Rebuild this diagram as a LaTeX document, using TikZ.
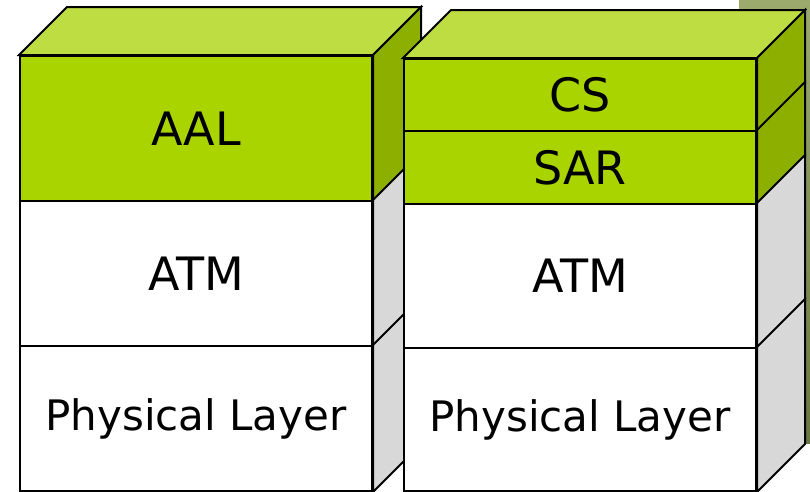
\documentclass[tikz,border=0pt]{standalone}
\usepackage{fontspec}
\setmainfont{DejaVu Sans}
\usetikzlibrary{calc}

\definecolor{frontG}{RGB}{170,212,0}
\definecolor{topG}{RGB}{190,221,66}
\definecolor{sideG}{RGB}{141,176,0}
\definecolor{sideW}{RGB}{216,216,216}
\definecolor{oliveA}{RGB}{156,170,110}
\definecolor{oliveB}{RGB}{104,120,66}

\begin{document}
\begin{tikzpicture}[x=1pt,y=-1pt]
 \tikzstyle{layer}  = [draw=black,line width=2pt,anchor=north west,inner sep=0pt,minimum width=352pt];
 \tikzstyle{placeG} = [fill=frontG,font=\fontsize{46}{52}\selectfont];
 \tikzstyle{placeW} = [fill=white,font=\fontsize{46}{52}\selectfont];
 \tikzstyle{placeP} = [fill=white,font=\fontsize{42}{48}\selectfont];
 \tikzstyle{face}   = [draw=black,line width=2pt];

 \useasboundingbox (0,0) rectangle (810,491);

 %% slide bar behind
 \shade[top color=oliveA,bottom color=oliveB] (739,0) rectangle (810,443);

 %% left stack
 \node[layer,placeG,minimum height=145pt,name=aal]  at (19,55)  {AAL};
 \node[layer,placeW,minimum height=145pt,name=atmL] at (19,200) {ATM};
 \node[layer,placeP,minimum height=145pt,name=phyL] at (19,345) {Physical Layer};
 \draw[face,fill=topG] (aal.north west) -- ++(48,-48) -- ($(aal.north east)+(48,-48)$) -- (aal.north east) -- cycle;
 \foreach \n/\c in {aal/sideG,atmL/sideW,phyL/sideW}
   \draw[face,fill=\c] (\n.north east) -- ++(48,-48) -- ($(\n.south east)+(48,-48)$) -- (\n.south east) -- cycle;

 %% right stack
 \node[layer,placeG,minimum height=72pt,name=cs]    at (403,58)  {CS};
 \node[layer,placeG,minimum height=73pt,name=sar]   at (403,130) {SAR};
 \node[layer,placeW,minimum height=144pt,name=atmR] at (403,203) {ATM};
 \node[layer,placeP,minimum height=143pt,name=phyR] at (403,347) {Physical Layer};
 \draw[face,fill=topG] (cs.north west) -- ++(48,-48) -- ($(cs.north east)+(48,-48)$) -- (cs.north east) -- cycle;
 \foreach \n/\c in {cs/sideG,sar/sideG,atmR/sideW,phyR/sideW}
   \draw[face,fill=\c] (\n.north east) -- ++(48,-48) -- ($(\n.south east)+(48,-48)$) -- (\n.south east) -- cycle;

\end{tikzpicture}
\end{document}
